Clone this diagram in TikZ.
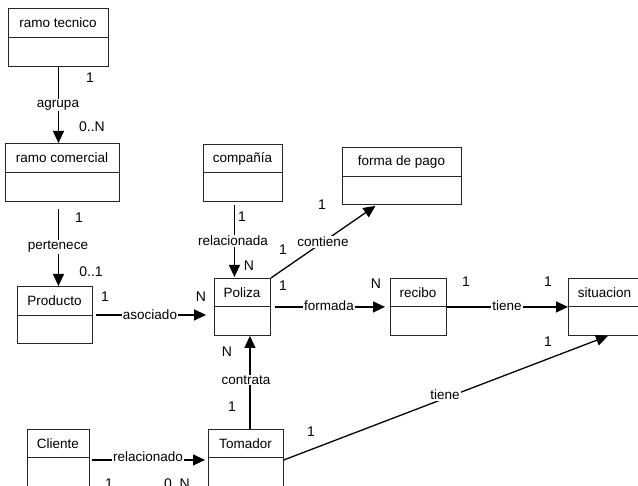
\documentclass[tikz,border=0pt]{standalone}
\usepackage{fontspec}
\setmainfont{Liberation Sans}
\usetikzlibrary{arrows.meta}
\begin{document}
\begin{tikzpicture}[x=1pt,y=-1pt,
  boxsty/.style={draw=black!85, line width=0.9pt, inner sep=0pt, fill=white},
  boxline/.style={draw=black!85, line width=0.9pt},
  titlesty/.style={font=\fontsize{13.5}{15}\selectfont, inner sep=0pt},
  conn/.style={draw=black, line width=1.3pt, -{Triangle[length=12pt,width=11pt]}},
  plain/.style={draw=black, line width=1.3pt},
  lbl/.style={font=\fontsize{13.5}{15}\selectfont, fill=white, inner sep=1pt},
  mult/.style={font=\fontsize{14}{16}\selectfont, inner sep=0pt}]
\newcommand\umlbox[7]{%
  \node[boxsty, minimum width={#4-#2}, minimum height={#5-#3}, anchor=north west] (#1) at (#2,#3) {};
  \draw[boxline] (#2,#6) -- (#4,#6);
  \node[titlesty] (#1t) at ({(#2+#4)/2},{(#3+#6)/2+0.5}) {#7};
}
\fill[white] (0,0) rectangle (638,486);
\useasboundingbox (0,0) rectangle (638,486);

\umlbox{rt}{8}{8}{108}{66}{37}{ramo tecnico}
\umlbox{rc}{5}{143}{119}{201}{172}{ramo comercial}
\umlbox{pr}{17}{286}{92}{343}{315}{Producto}
\umlbox{co}{203}{144}{282}{201}{172}{compañía}
\umlbox{fp}{342}{147}{461}{204}{176}{forma de pago}
\umlbox{po}{214}{278}{270}{335}{306}{Poliza}
\umlbox{re}{390}{278}{446}{335}{306}{recibo}
\umlbox{si}{568}{278}{641}{335}{306}{situacion}
\umlbox{cl}{27}{429}{89}{488}{457}{Cliente}
\umlbox{to}{208}{429}{283}{488}{457}{Tomador}

% connectors
\draw[conn] ([xshift=0pt]rt.south) -- (rt.south |- rc.north);
\draw[conn] ([xshift=3.5pt,yshift=-7pt]pr.north |- rc.south) -- ([xshift=3.5pt]pr.north);
\draw[conn] ([xshift=-8.5pt,yshift=-3pt]co.south) -- ([xshift=-8.5pt,yshift=1pt]co.south |- po.north);
\draw[conn] (po.north east) -- ([xshift=-26.5pt,yshift=-1pt]fp.south);
\draw[conn] ([xshift=4pt]po.east) -- ([xshift=-5pt]re.west);
\draw[conn] (re.east) -- (si.west);
\draw[conn] ([xshift=3pt]pr.east) -- ([xshift=-8pt]pr.east -| po.west);
\draw[conn] ([xshift=4pt]to.north) -- ([xshift=4pt]to.north |- po.south);
\draw[conn] ([xshift=2pt,yshift=-1pt]cl.east) -- ([xshift=-3pt,yshift=-1pt]cl.east -| to.west);
\draw[conn] ([yshift=-1pt]to.east) -- ([xshift=40pt]si.south west);

% connector labels
\node[lbl] (l1) at (58,105) {agrupa};
\node[lbl] (l2) at (58,247) {pertenece};
\node[lbl] (l3) at (233,241) {relacionada};
\node[lbl] (l4) at (323,242) {contiene};
\node[lbl] (l5) at (329,306) {formada};
\node[lbl] (l6) at (507,306) {tiene};
\node[lbl] (l7) at (150,315) {asociado};
\node[lbl] (l8) at (246,380) {contrata};
\node[lbl] (l9) at (148,457) {relacionado};
\node[lbl] (l10) at (445,395) {tiene};

% multiplicities
\node[mult] (m1) at (90,78) {1};
\node[mult] (m2) at (92,127) {0..N};
\node[mult] (m3) at (79,218) {1};
\node[mult] (m4) at (91,272) {0..1};
\node[mult] (m5) at (242,217) {1};
\node[mult] (m6) at (249,266) {N};
\node[mult] (m7) at (322,205) {1};
\node[mult] (m8) at (283,250) {1};
\node[mult] (m9) at (283,286) {1};
\node[mult] (m10) at (376,284) {N};
\node[mult] (m11) at (466,282) {1};
\node[mult] (m12) at (548,282) {1};
\node[mult] (m13) at (105,297) {1};
\node[mult] (m14) at (201,297) {N};
\node[mult] (m15) at (227,352) {N};
\node[mult] (m16) at (232,407) {1};
\node[mult] (m17) at (311,432) {1};
\node[mult] (m18) at (548,342) {1};
\node[mult] (m19) at (109,484) {1};
\node[mult] (m20) at (177,484) {0..N};
\end{tikzpicture}
\end{document}
